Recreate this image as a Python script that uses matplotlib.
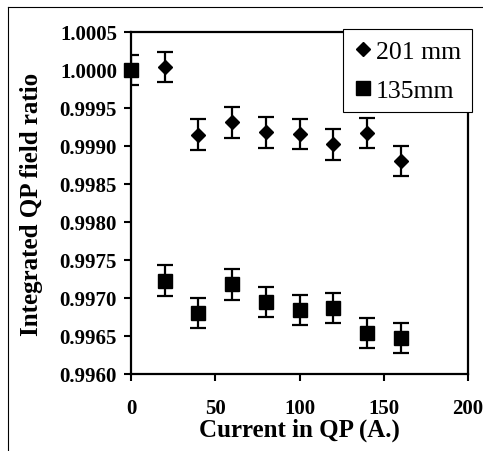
import matplotlib
matplotlib.use("Agg")
import matplotlib.pyplot as plt
from matplotlib.lines import Line2D

# Data
current_201 = [20, 40, 60, 80, 100, 120, 140, 160]
ratio_201 = [1.00004, 0.99915, 0.99931, 0.99918, 0.99916, 0.99902, 0.99917, 0.99880]
current_135 = [0, 20, 40, 60, 80, 100, 120, 140, 160]
ratio_135 = [1.00000, 0.99723, 0.99680, 0.99718, 0.99695, 0.99684, 0.99687, 0.99654, 0.99647]
err_201 = [0.0002] * len(current_201)
err_135 = [0.0002] * len(current_135)
yticks = [0.9960, 0.9965, 0.9970, 0.9975, 0.9980, 0.9985, 0.9990, 0.9995, 1.0000, 1.0005]
xticks = [0, 50, 100, 150, 200]

W, H = 483, 452
fig = plt.figure(figsize=(W / 100, H / 100), dpi=100)
fig.patch.set_facecolor("white")
ax = fig.add_axes([131 / W, 1 - 375 / H, (468 - 131) / W, (375 - 33) / H])

serif = ["Liberation Serif", "DejaVu Serif"]

ax.errorbar(current_201, ratio_201, yerr=err_201, fmt="none", ecolor="black",
            elinewidth=1.6, capsize=6, capthick=1.6, zorder=3)
ax.errorbar(current_135, ratio_135, yerr=err_135, fmt="none", ecolor="black",
            elinewidth=1.6, capsize=6, capthick=1.6, zorder=3)
ax.plot(current_201, ratio_201, linestyle="none", marker="D", markersize=7,
        color="black", label="201 mm", zorder=4, clip_on=False)
ax.plot(current_135, ratio_135, linestyle="none", marker="s", markersize=10.5,
        color="black", label="135mm", zorder=4, clip_on=False)

ax.set_xlim(0, 200)
ax.set_ylim(0.9960, 1.0005)
ax.set_xticks(xticks)
ax.set_yticks(yticks)
ax.set_xticklabels([str(v) for v in xticks], fontfamily=serif, fontweight="bold", fontsize=15)
ax.set_yticklabels([f"{v:.4f}" for v in yticks], fontfamily=serif, fontweight="bold", fontsize=15)
ax.tick_params(axis="both", direction="out", length=5, width=1.5, color="black")
ax.tick_params(axis="x", pad=12)
ax.tick_params(axis="y", pad=5)
for s in ax.spines.values():
    s.set_linewidth(1.6)
    s.set_color("black")

ax.set_xlabel("Current in QP (A.)", fontfamily=serif, fontweight="bold", fontsize=18, labelpad=0)
ax.set_ylabel("Integrated QP field ratio", fontfamily=serif, fontweight="bold", fontsize=18, labelpad=12)

leg = ax.legend(loc="upper right", bbox_to_anchor=(472 / W, 1 - 30 / H),
                bbox_transform=fig.transFigure, borderaxespad=0,
                prop={"family": serif, "size": 18.5}, frameon=True, fancybox=False,
                edgecolor="black", framealpha=1, handlelength=0.7, handletextpad=0.15,
                borderpad=0.42, labelspacing=0.62, markerscale=1.0)
leg.get_frame().set_linewidth(0.8)

# Outer chart border (left and top visible)
fig.add_artist(Line2D([8 / W, 8 / W], [0, 1 - 8 / H], transform=fig.transFigure,
                      color="black", linewidth=0.8))
fig.add_artist(Line2D([8 / W, 1], [1 - 8 / H, 1 - 8 / H], transform=fig.transFigure,
                      color="black", linewidth=0.8))

fig.savefig("out.png", dpi=100)
